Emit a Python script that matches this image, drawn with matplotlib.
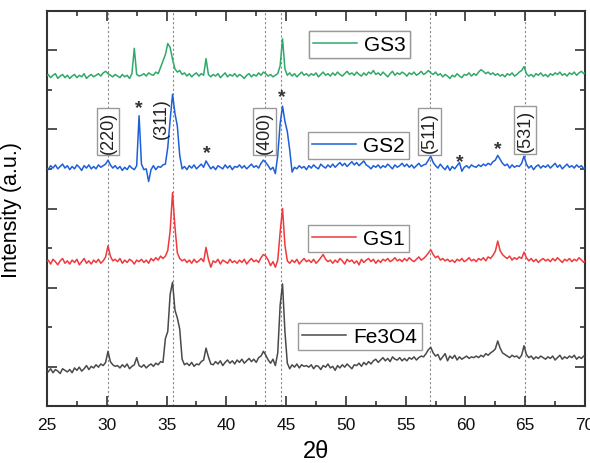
import numpy as np
import matplotlib
matplotlib.use('Agg')
import matplotlib.pyplot as plt
from matplotlib.ticker import MultipleLocator

plt.rcParams['font.family'] = ['Liberation Sans', 'DejaVu Sans']

# 2-theta grid, 0.2 deg steps
two_theta = np.round(np.arange(24.9, 70.11, 0.2), 1)

# intensities (a.u.), each relative to its own stacking offset
fe3o4 = [
    -4, -6, -2, -7, -3, -5, -8, -2, -4, -6,
    -3, -7, -1, -4, 0, -5, -2, 2, -3, 1,
    -1, 3, 0, 4, 2, 6, 20, 7, 3, 1,
    2, -1, 3, 0, 4, -2, 1, 3, 12, 2,
    0, 3, -1, 2, 4, 1, 5, 3, 7, 6,
    36, 45, 92, 107, 72, 62, 48, 10, 3, 5,
    2, 6, 1, 4, 3, 7, 9, 24, 13, 4,
    3, 7, 4, 8, 2, 6, 9, 5, 8, 4,
    9, 6, 10, 5, 8, 11, 7, 10, 6, 12,
    14, 20, 15, 9, 5, 10, 2, 18, 78, 105,
    45, 5, -2, 3, 0, 4, -1, 3, 1, 2,
    0, 3, -2, 2, 1, -3, 2, 0, 4, -1,
    1, -4, 2, -1, 3, 0, 4, 1, -2, 3,
    2, 5, 1, 6, 3, 7, 4, 8, 10, 6,
    9, 12, 8, 11, 7, 13, 10, 9, 12, 8,
    11, 8, 12, 10, 13, 9, 12, 14, 13, 17,
    22, 25, 18, 14, 16, 9, 13, 17, 8, 14,
    11, 15, 9, 13, 10, 12, 14, 11, 13, 12,
    14, 12, 15, 13, 17, 15, 18, 20, 23, 33,
    24, 18, 16, 14, 12, 15, 13, 14, 11, 15,
    27, 16, 12, 14, 10, 13, 11, 14, 12, 10,
    13, 11, 14, 9, 12, 15, 10, 13, 11, 14,
    12, 15, 10, 13, 11, 14, 12,
]
gs1 = [
    0, 3, -2, 4, 1, -3, 2, 5, -1, 2,
    -2, 3, 0, 4, -3, 1, 5, -1, 2, -2,
    3, 0, 4, -1, 2, 7, 21, 8, 2, 4,
    1, 5, -1, 3, 0, 4, 2, -2, 3, 1,
    4, 0, 3, -1, 5, 2, 6, 3, 8, 5,
    8, 15, 40, 88, 45, 12, 5, 2, 4, 0,
    3, -1, 4, 0, 2, 5, 1, 19, 4, -6,
    2, 0, 4, -2, 3, 1, -1, 4, 0, 2,
    -1, 3, 0, 4, -2, 2, 5, 1, 3, 0,
    6, 10, 8, 3, -4, 1, -6, 3, 38, 68,
    22, 2, -1, 3, 0, 4, -2, 2, 5, 1,
    3, 0, 4, -1, 2, 6, 10, 4, 1, 3,
    -1, 3, 0, 5, 2, -2, 4, 1, 3, -1,
    2, -3, 4, 0, 3, 5, 1, 4, -1, 3,
    0, 4, 2, 5, 1, 3, 6, 2, 4, 1,
    5, 2, 6, 3, 1, 4, 7, 3, 5, 8,
    12, 16, 10, 6, 8, 3, 5, 2, 4, 1,
    3, 0, 4, 2, 5, 1, 3, 6, 2, 4,
    1, 5, 3, 6, 2, 7, 5, 9, 14, 27,
    15, 10, 7, 5, 8, 3, 6, 4, 7, 5,
    13, 6, 2, 5, 1, 4, 0, 3, 5, 2,
    4, 1, 5, 2, 6, 3, 0, 4, 2, 5,
    1, 4, 2, 6, 3, 0, 4,
]
gs2 = [
    0, -3, 2, -1, 3, -2, 1, 4, -1, 2,
    -3, 1, -2, 3, 0, -4, 2, -1, 3, -2,
    1, -2, 3, 0, 2, 4, 9, 3, -1, 2,
    -2, 1, -4, 0, -3, 2, -1, -3, 2, 65,
    4, -3, -2, -18, -3, 2, -3, 1, 0, 3,
    4, 25, 60, 92, 68, 52, 15, -2, 1, -3,
    2, -1, 3, -2, 1, 4, 0, 8, 3, -2,
    1, -3, 2, 0, -2, 3, -1, 2, -3, 1,
    0, 3, -1, 2, -2, 1, 4, 0, 2, -1,
    5, 9, 6, 2, -3, 0, -8, 15, 55, 77,
    58, 45, 22, -6, 0, -2, 2, -1, 1, -3,
    2, -1, 3, 0, -2, 4, 1, -1, 3, 0,
    4, 0, 3, 6, 2, 5, 1, 4, 7, 3,
    6, 2, 5, 8, 3, 1, -2, 2, 0, 3,
    -1, 2, 0, 4, 1, -2, 3, 0, 2, 5,
    1, 4, 0, 3, -1, 2, 5, 1, 3, 4,
    9, 14, 6, 2, -1, 4, 0, -3, 2, -4,
    1, -2, 2, 6, -5, 0, 2, -1, 3, 1,
    0, 3, 1, 4, 2, 5, 3, 7, 9, 15,
    10, 5, 2, 4, -1, 3, 0, 2, 1, 5,
    14, 4, -1, 2, -3, 1, 3, -1, 2, 0,
    3, -1, 2, 5, 0, 3, -2, 1, 4, 0,
    2, -1, 3, 0, 2, -2, 1,
]
gs3 = [
    0, 3, -1, 2, 4, -2, 1, 3, -1, 2,
    -2, 1, 3, -1, 2, 0, 4, -2, 1, 3,
    0, 2, 4, 1, 5, 7, 4, 2, 0, 3,
    1, -1, 3, 0, 2, -2, 4, 36, 3, 1,
    2, 4, 1, 5, 3, 2, 6, 4, 12, 20,
    28, 42, 37, 22, 10, 6, 8, 3, 5, 1,
    4, 0, 3, 5, 1, 4, 2, 23, 3, 0,
    3, 1, 4, -1, 2, 5, 0, 3, 1, 4,
    0, 3, 1, -2, 2, 4, 0, 3, 1, 5,
    2, 6, 4, 1, 3, 0, 2, 4, 14, 48,
    10, 2, 5, 1, 4, 0, 3, 6, 2, 4,
    1, 4, 2, 5, 0, 3, 6, 2, 4, 1,
    5, 2, 6, 3, 1, 4, 7, 3, 5, 2,
    6, 3, 1, 5, 2, 6, 4, 8, 3, 5,
    2, 6, 3, 0, 4, 7, 2, 5, 3, 6,
    4, 1, 5, 3, 6, 2, 4, 7, 3, 5,
    8, 5, 3, 6, 2, 4, 0, 3, 1, -2,
    2, 0, 4, 1, -1, 3, 2, 5, 1, 4,
    2, 6, 9, 7, 4, 6, 3, 5, 2, 4,
    1, 3, 0, 4, 2, 5, 1, 3, 6, 8,
    13, 4, 1, 3, 0, 4, 2, 5, 1, 3,
    0, 4, 2, 5, 3, 6, 2, 4, 1, 5,
    3, 6, 2, 5, 7, 4, 6,
]

names = ['Fe3O4', 'GS1', 'GS2', 'GS3']
series = [fe3o4, gs1, gs2, gs3]
offsets = [0, 132, 252, 366]
colors = ['#4a4a4a', '#f0393c', '#1e5fd8', '#2fa86a']
legend_pos = [(0.467, 0.210), (0.485, 0.458), (0.485, 0.694), (0.487, 0.949)]

ref_lines = [30.1, 35.5, 43.2, 44.6, 57.0, 65.0]
hkl = [('(220)', 30.1, 297, True), ('(311)', 34.6, 315, False),
       ('(400)', 43.2, 297, True), ('(511)', 57.0, 297, True),
       ('(531)', 65.0, 299, True)]
stars = [(32.65, 327), (38.4, 271), (44.65, 341), (59.5, 259), (62.7, 276)]

fig = plt.figure(figsize=(5.9, 4.64), dpi=100)
ax = fig.add_axes([0.0797, 0.1228, 0.9118, 0.8513])

for xv in ref_lines:
    ax.axvline(xv, color='#8a8a8a', lw=0.8, ls=(0, (2, 2)), zorder=1)

lines = []
for name, ys, off, c in zip(names, series, offsets, colors):
    ln, = ax.plot(two_theta, np.array(ys) + off, color=c, lw=1.1, label=name, zorder=3)
    lines.append(ln)

for ln, pos in zip(lines, legend_pos):
    lg = ax.legend(handles=[ln], loc='upper left', bbox_to_anchor=pos,
                   fontsize=15, frameon=True, fancybox=False, framealpha=1,
                   edgecolor='#9a9a9a', borderpad=0.2, handlelength=2.1,
                   handletextpad=0.35, borderaxespad=0)
    lg.get_frame().set_linewidth(1.0)
    ax.add_artist(lg)

for txt, xv, yv, boxed in hkl:
    kw = dict(rotation=90, ha='center', va='center', fontsize=13, color='#222', zorder=4)
    if boxed:
        kw['bbox'] = dict(boxstyle='square,pad=0.15', fc='white', ec='#9a9a9a', lw=1.0)
    ax.text(xv, yv, txt, **kw)

for xv, yv in stars:
    ax.text(xv, yv, '*', ha='center', va='center', fontsize=14,
            fontweight='bold', color='#333', zorder=4)

ax.set_xlim(25, 70)
ax.set_ylim(-49, 449)
ax.xaxis.set_major_locator(MultipleLocator(5))
ax.xaxis.set_minor_locator(MultipleLocator(2.5))
ax.yaxis.set_major_locator(MultipleLocator(100))
ax.yaxis.set_minor_locator(MultipleLocator(50))
ax.tick_params(which='both', direction='in', top=True, right=True, colors='#333',
               labelsize=12.5, pad=8)
ax.tick_params(axis='x', labelcolor='#111')
ax.tick_params(which='major', length=7, width=1.2)
ax.tick_params(which='minor', length=3.5, width=1.2)
ax.tick_params(axis='y', labelleft=False)
for s in ax.spines.values():
    s.set_linewidth(1.5)
    s.set_color('#333')

ax.set_xlabel('2θ', fontsize=17)
ax.set_ylabel('Intensity (a.u.)', fontsize=15.5)
ax.xaxis.set_label_coords(0.5, -0.086)
ax.yaxis.set_label_coords(-0.046, 0.5)

fig.savefig('out.png', dpi=100)
